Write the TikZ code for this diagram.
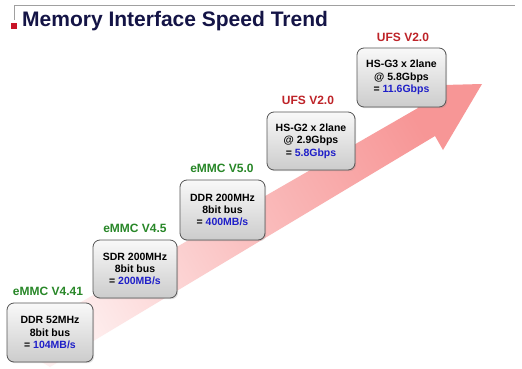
\documentclass[tikz,border=0pt]{standalone}
\usepackage{fontspec}
\setmainfont{Liberation Sans}
\usetikzlibrary{shadows}
\definecolor{titleblue}{RGB}{20,20,70}
\definecolor{lblgreen}{RGB}{40,135,40}
\definecolor{lblred}{RGB}{190,35,40}
\definecolor{valblue}{RGB}{30,30,200}
\definecolor{arrowpink}{RGB}{247,150,150}
\definecolor{arrowpale}{RGB}{254,240,240}
\definecolor{boxedge}{RGB}{85,85,85}
\definecolor{redsq}{RGB}{200,20,40}
\definecolor{rulegray}{RGB}{160,160,160}
\begin{document}
\begin{tikzpicture}[x=1pt,y=-1pt,
  spdbox/.style={draw=boxedge, line width=0.8pt, rounded corners=7pt,
    top color=gray!5, bottom color=gray!40, align=center,
    font=\fontsize{10.5}{12.3}\selectfont\bfseries, text=black, inner sep=0pt,
    drop shadow={opacity=0.25, shadow xshift=1.2pt, shadow yshift=-1.2pt}},
  glabel/.style={font=\fontsize{12}{14}\selectfont\bfseries, text=lblgreen, inner sep=0pt},
  rlabel/.style={font=\fontsize{12}{14}\selectfont\bfseries, text=lblred, inner sep=0pt},
  val/.style={text=valblue}]
\useasboundingbox (0,0) rectangle (522,369);
\fill[white] (0,0) rectangle (522,369);

% header
\draw[rulegray, line width=0.8pt] (14,20) -- (14,5) -- (515,5);
\fill[redsq] (11,23.3) rectangle (16.7,29);
\node[anchor=base west, font=\fontsize{21}{24}\selectfont\bfseries, text=titleblue, inner sep=0pt] (title) at (22,26.7) {Memory Interface Speed Trend};

% trend arrow
\path[bottom color=arrowpale, top color=arrowpink, middle color=arrowpink!55!arrowpale, shading angle=-60]
  (10,343) -- (418,108) -- (405,86) -- (482,84) -- (443,150) -- (435,136) -- (50,367) -- cycle;

% boxes
\node[spdbox, minimum width=86pt, minimum height=59pt] (b1) at (50,332.5)
  {DDR 52MHz\\8bit bus\\= \textcolor{valblue}{104MB/s}};
\node[spdbox, minimum width=84pt, minimum height=58pt] (b2) at (135,269)
  {SDR 200MHz\\8bit bus\\= \textcolor{valblue}{200MB/s}};
\node[spdbox, minimum width=85pt, minimum height=60pt] (b3) at (222.5,210)
  {DDR 200MHz\\8bit bus\\= \textcolor{valblue}{400MB/s}};
\node[spdbox, minimum width=88pt, minimum height=58pt] (b4) at (311,141)
  {HS-G2 x 2lane\\@ 2.9Gbps\\= \textcolor{valblue}{5.8Gbps}};
\node[spdbox, minimum width=89pt, minimum height=59pt] (b5) at (401.5,77.5)
  {HS-G3 x 2lane\\@ 5.8Gbps\\= \textcolor{valblue}{11.6Gbps}};

% labels
\node[glabel] (l1) at (48,291) {eMMC V4.41};
\node[glabel] (l2) at (135,228) {eMMC V4.5};
\node[glabel] (l3) at (222,168) {eMMC V5.0};
\node[rlabel] (l4) at (308,100) {UFS V2.0};
\node[rlabel] (l5) at (403,37) {UFS V2.0};
\end{tikzpicture}
\end{document}
